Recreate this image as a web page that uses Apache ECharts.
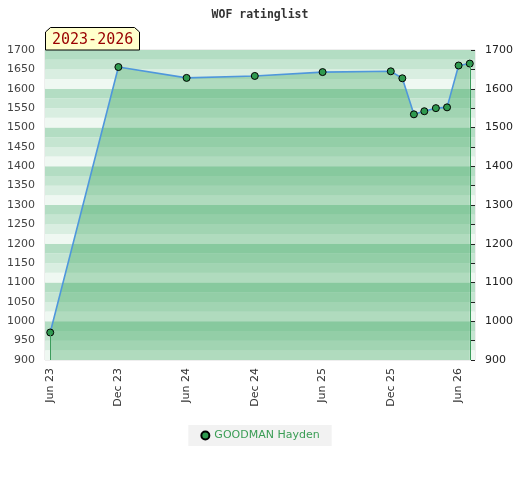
<!DOCTYPE html>
<html>
<head>
<meta charset="utf-8">
<script src="https://cdn.jsdelivr.net/npm/echarts@6/dist/echarts.min.js"></script>
<style>html,body{margin:0;padding:0;background:#fff}#c{width:520px;height:480px}</style>
</head>
<body>
<div id="c"></div>
<script>
var titleText = 'WOF ratinglist';
var periodText = '2023-2026';
var seriesName = 'GOODMAN Hayden';
var dates = ['2023-06-01','2023-12-01','2024-06-01','2024-12-01','2025-06-01','2025-12-01','2026-01-01','2026-02-01','2026-03-01','2026-04-01','2026-05-01','2026-06-01','2026-07-01'];
var ratings = [971, 1656, 1628, 1633, 1643, 1645, 1627, 1534, 1542, 1550, 1552, 1660, 1665];
var tickDates = ['2023-06-01','2023-12-01','2024-06-01','2024-12-01','2025-06-01','2025-12-01','2026-06-01'];
var yMin = 900, yMax = 1700;
var months = ['Jan','Feb','Mar','Apr','May','Jun','Jul','Aug','Sep','Oct','Nov','Dec'];

function ts(s){ var p = s.split('-'); return Date.UTC(+p[0], +p[1]-1, +p[2]); }
var data = dates.map(function(d,i){ return [ts(d), ratings[i]]; });
var first = data[0], last = data[data.length-1];

var chart = echarts.init(document.getElementById('c'), null, {renderer:'canvas'});
chart.setOption({
  animation:false,
  backgroundColor:'#ffffff',
  title:{text:titleText, left:'center', top:4, textStyle:{fontFamily:'DejaVu Sans Mono', fontWeight:'bold', fontSize:11.5, color:'#333'}},
  grid:{left:45, right:45, top:50, bottom:120, show:true, borderColor:'#dddddd', borderWidth:1, backgroundColor:'transparent'},
  legend:{bottom:34, left:'center', backgroundColor:'#f2f2f2', padding:[5,12], itemWidth:8, itemHeight:8, itemGap:6,
    textStyle:{color:'#3a9d55', fontFamily:'DejaVu Sans', fontSize:11}, data:[{name:seriesName, icon:'circle'}]},
  xAxis:{type:'value', min:ts('2023-05-18'), max:ts('2026-07-15'), scale:true,
    axisLine:{show:false}, axisTick:{show:false}, splitLine:{show:false},
    axisLabel:{customValues:tickDates.map(ts), rotate:90, margin:8, color:'#333', fontFamily:'DejaVu Sans', fontSize:11,
      formatter:function(v){ var d=new Date(v); return months[d.getUTCMonth()]+' '+String(d.getUTCFullYear()).slice(2); }}},
  yAxis:[
    {type:'value', position:'left', min:yMin, max:yMax, interval:50, axisLine:{show:false}, axisTick:{show:false}, splitLine:{show:false},
      axisLabel:{color:'#444', fontFamily:'DejaVu Sans', fontSize:11, margin:10, formatter:function(v){ return String(v); }}},
    {type:'value', position:'right', min:yMin, max:yMax, interval:50, axisLine:{show:false},
      axisTick:{show:true, inside:true, length:4, lineStyle:{color:'#222'}}, splitLine:{show:false},
      axisLabel:{color:'#222', fontFamily:'DejaVu Sans', fontSize:11, margin:10, formatter:function(v){ return v%100===0 ? String(v) : ''; }}},
    {type:'value', position:'left', min:yMin, max:yMax, interval:25, axisLine:{show:false}, axisTick:{show:false}, axisLabel:{show:false}, splitLine:{show:false},
      splitArea:{show:true, areaStyle:{color:['#eff8f2','#d9eee1','#c5e5d1','#b3ddc3']}}}
  ],
  series:[{
    name:seriesName, type:'line', data:data, yAxisIndex:0,
    symbol:'circle', symbolSize:7,
    itemStyle:{color:'#2f9a4f', borderColor:'#000', borderWidth:1},
    lineStyle:{color:'#4f97dc', width:1.6},
    areaStyle:{color:'rgba(41,158,80,0.45)', origin:'start'},
    markLine:{silent:true, symbol:'none', label:{show:false}, lineStyle:{color:'#3c9c5c', width:1, type:'solid'},
      data:[[{coord:[first[0], first[1]]},{coord:[first[0], yMin]}],[{coord:[last[0], last[1]]},{coord:[last[0], yMin]}]]},
    z:3
  }],
  graphic:[
    {type:'polygon', shape:{points:[[45.5,50],[45.5,32],[50.5,27.5],[134.5,27.5],[139.5,32],[139.5,50]]}, style:{fill:'#ffffcc', stroke:'#000', lineWidth:1}, z:10},
    {type:'text', left:52, top:33, style:{text:periodText, fill:'#990000', font:'15px "DejaVu Sans Mono"'}, z:11}
  ]
});
</script>
</body>
</html>
